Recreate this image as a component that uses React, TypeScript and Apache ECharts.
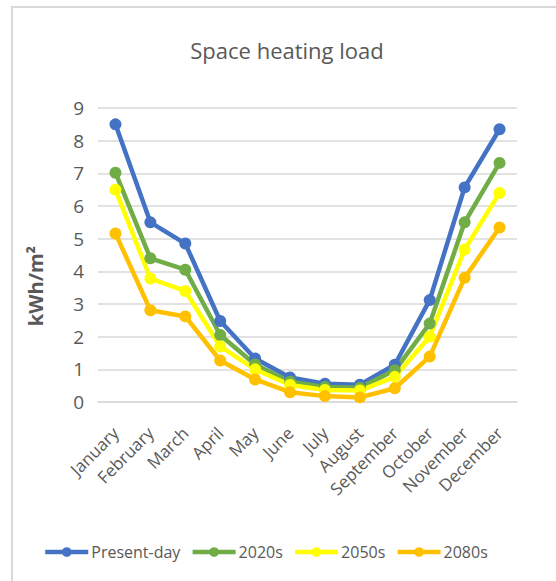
import React, { useEffect, useRef } from "react";
import * as echarts from "echarts";

const months = ["January", "February", "March", "April", "May", "June", "July", "August", "September", "October", "November", "December"];
const presentDay = [8.5, 5.5, 4.85, 2.48, 1.33, 0.75, 0.56, 0.53, 1.14, 3.12, 6.57, 8.35];
const s2020 = [7.02, 4.4, 4.05, 2.05, 1.15, 0.62, 0.46, 0.44, 0.97, 2.4, 5.5, 7.32];
const s2050 = [6.5, 3.78, 3.4, 1.7, 1.0, 0.52, 0.37, 0.35, 0.77, 2.0, 4.67, 6.4];
const s2080 = [5.16, 2.81, 2.62, 1.27, 0.69, 0.3, 0.18, 0.14, 0.42, 1.39, 3.8, 5.34];
const seriesNames = ["Present-day", "2020s", "2050s", "2080s"];
const seriesColors = ["#4472C4", "#70AD47", "#FFFF00", "#FFC000"];
const yTicks = [0, 1, 2, 3, 4, 5, 6, 7, 8, 9];
const titleText = "Space heating load";
const yAxisTitle = "kWh/m²";

const FONT = "Open Sans";

export default function App() {
  const ref = useRef<HTMLDivElement>(null);
  useEffect(() => {
    if (!ref.current) return;
    const chart = echarts.init(ref.current, null, { renderer: "svg" });
    const data = [presentDay, s2020, s2050, s2080];
    chart.setOption({
      animation: false,
      backgroundColor: "#ffffff",
      textStyle: { fontFamily: FONT },
      graphic: [
        {
          type: "rect",
          shape: { x: 12, y: 7, width: 600, height: 600 },
          style: { fill: "none", stroke: "#d9d9d9", lineWidth: 2 },
          silent: true,
        },
        {
          type: "text",
          x: 287,
          y: 50,
          style: {
            text: titleText,
            textAlign: "center",
            textVerticalAlign: "middle",
            fontFamily: FONT,
            fontSize: 22,
            fill: "#595959",
          },
          silent: true,
        },
        {
          type: "text",
          x: 35,
          y: 286,
          rotation: Math.PI / 2,
          style: {
            text: yAxisTitle,
            textAlign: "center",
            textVerticalAlign: "middle",
            fontFamily: FONT,
            fontSize: 20,
            fontWeight: "bold",
            fill: "#595959",
          },
          silent: true,
        },
      ],
      legend: {
        left: 38,
        top: 539,
        itemWidth: 43,
        itemHeight: 12,
        itemGap: 10,
        lineStyle: { width: 4.5 },
        textStyle: { fontFamily: FONT, fontSize: 16, color: "#595959", padding: [0, 0, 0, -2] },
        data: seriesNames,
      },
      grid: { left: 98, right: 39, top: 108, bottom: 179, containLabel: false },
      xAxis: {
        type: "category",
        data: months,
        boundaryGap: true,
        axisLine: { show: true, lineStyle: { color: "#d9d9d9", width: 1.5 } },
        axisTick: { show: false },
        axisLabel: { rotate: 45, margin: 28, fontFamily: FONT, fontSize: 17, color: "#595959", interval: 0 },
      },
      yAxis: {
        type: "value",
        min: yTicks[0],
        max: yTicks[yTicks.length - 1],
        interval: 1,
        axisLine: { show: false },
        axisTick: { show: false },
        axisLabel: { fontFamily: FONT, fontSize: 19, color: "#595959", margin: 14 },
        splitLine: { lineStyle: { color: "#d9d9d9", width: 1.5 } },
      },
      series: seriesNames.map((n, i) => ({
        name: n,
        type: "line",
        data: data[i],
        symbol: "circle",
        symbolSize: 12,
        lineStyle: { width: 4.5, color: seriesColors[i] },
        itemStyle: { color: seriesColors[i] },
      })),
    });
    return () => chart.dispose();
  }, []);
  return <div ref={ref} style={{ position: "absolute", left: 0, top: 0, width: 556, height: 581 }} />;
}
